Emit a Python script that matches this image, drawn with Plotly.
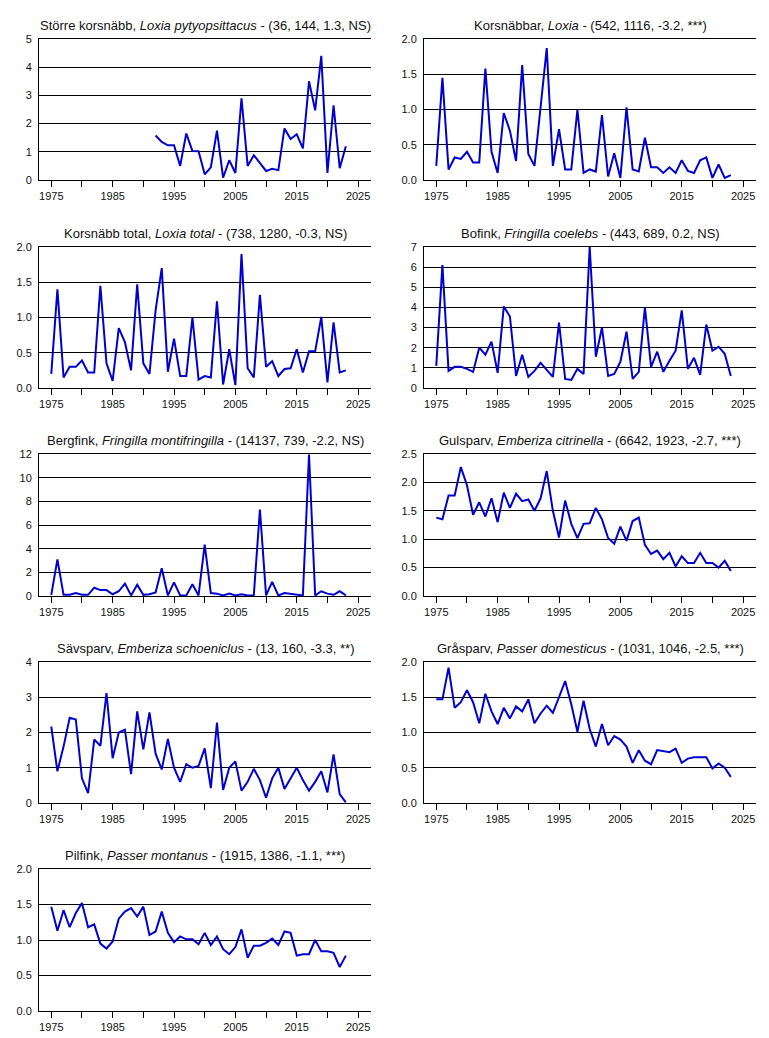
import plotly.graph_objects as go

years = list(range(1975, 2024))

titles = [
    "Större korsnäbb, <i>Loxia pytyopsittacus</i> - (36, 144, 1.3, NS)",
    "Korsnäbbar, <i>Loxia</i> - (542, 1116, -3.2, ***)",
    "Korsnäbb total, <i>Loxia total</i> - (738, 1280, -0.3, NS)",
    "Bofink, <i>Fringilla coelebs</i> - (443, 689, 0.2, NS)",
    "Bergfink, <i>Fringilla montifringilla</i> - (14137, 739, -2.2, NS)",
    "Gulsparv, <i>Emberiza citrinella</i> - (6642, 1923, -2.7, ***)",
    "Sävsparv, <i>Emberiza schoeniclus</i> - (13, 160, -3.3, **)",
    "Gråsparv, <i>Passer domesticus</i> - (1031, 1046, -2.5, ***)",
    "Pilfink, <i>Passer montanus</i> - (1915, 1386, -1.1, ***)",
]

storre_korsnabb = [None] * 17 + [
    1.58, 1.35, 1.23, 1.23, 0.50, 1.65, 1.03, 1.02, 0.20, 0.45,
    1.75, 0.08, 0.70, 0.25, 2.90, 0.50, 0.88, 0.60, 0.32, 0.40,
    0.35, 1.83, 1.45, 1.62, 1.12, 3.50, 2.47, 4.40, 0.25, 2.65,
    0.42, 1.20]

korsnabbar = [
    0.20, 1.45, 0.15, 0.32, 0.30, 0.40, 0.25, 0.25, 1.58, 0.40,
    0.10, 0.95, 0.70, 0.27, 1.63, 0.37, 0.20, 1.05, 1.87, 0.20,
    0.72, 0.15, 0.15, 1.00, 0.10, 0.15, 0.12, 0.92, 0.05, 0.38,
    0.03, 1.03, 0.15, 0.12, 0.60, 0.18, 0.18, 0.10, 0.18, 0.10,
    0.28, 0.13, 0.10, 0.28, 0.32, 0.03, 0.22, 0.03, 0.07]

korsnabb_total = [
    0.20, 1.40, 0.15, 0.30, 0.30, 0.39, 0.22, 0.22, 1.45, 0.35,
    0.10, 0.85, 0.65, 0.25, 1.47, 0.35, 0.20, 1.10, 1.70, 0.23,
    0.70, 0.17, 0.17, 1.00, 0.12, 0.17, 0.15, 1.23, 0.05, 0.55,
    0.04, 1.90, 0.28, 0.15, 1.32, 0.30, 0.38, 0.17, 0.27, 0.28,
    0.55, 0.22, 0.52, 0.52, 1.01, 0.08, 0.93, 0.22, 0.25]

bofink = [
    1.10, 6.10, 0.85, 1.05, 1.05, 0.95, 0.80, 2.00, 1.65, 2.30,
    0.75, 4.05, 3.55, 0.60, 1.65, 0.55, 0.85, 1.25, 0.90, 0.55,
    3.25, 0.45, 0.40, 0.95, 0.70, 7.00, 1.55, 3.00, 0.60, 0.70,
    1.30, 2.80, 0.45, 0.80, 4.00, 1.05, 1.80, 0.80, 1.35, 1.85,
    3.85, 0.95, 1.50, 0.65, 3.15, 1.85, 2.05, 1.70, 0.60]

bergfink = [
    0.10, 3.10, 0.10, 0.10, 0.25, 0.10, 0.10, 0.70, 0.50, 0.50,
    0.15, 0.40, 1.05, 0.05, 0.95, 0.10, 0.15, 0.30, 2.35, 0.05,
    1.15, 0.05, 0.05, 1.00, 0.05, 4.35, 0.25, 0.20, 0.05, 0.20,
    0.05, 0.15, 0.05, 0.05, 7.30, 0.05, 1.20, 0.05, 0.25, 0.20,
    0.10, 0.05, 11.95, 0.05, 0.40, 0.20, 0.10, 0.40, 0.05]

gulsparv = [
    1.38, 1.35, 1.77, 1.77, 2.27, 1.95, 1.43, 1.65, 1.40, 1.72,
    1.30, 1.82, 1.55, 1.80, 1.67, 1.70, 1.50, 1.72, 2.20, 1.50,
    1.03, 1.68, 1.27, 1.02, 1.27, 1.28, 1.55, 1.35, 1.02, 0.92,
    1.22, 0.97, 1.32, 1.38, 0.90, 0.74, 0.80, 0.65, 0.76, 0.52,
    0.70, 0.58, 0.58, 0.76, 0.58, 0.58, 0.50, 0.62, 0.44]

savsparv = [
    2.17, 0.90, 1.60, 2.42, 2.37, 0.70, 0.28, 1.80, 1.62, 3.12,
    1.27, 2.00, 2.08, 0.82, 2.60, 1.52, 2.57, 1.40, 0.95, 1.82,
    1.00, 0.60, 1.10, 1.00, 1.05, 1.55, 0.42, 2.28, 0.37, 1.00,
    1.18, 0.35, 0.60, 0.97, 0.65, 0.15, 0.70, 1.00, 0.40, 0.70,
    1.00, 0.65, 0.35, 0.60, 0.90, 0.30, 1.38, 0.25, 0.02]

grasparv = [
    1.47, 1.47, 1.92, 1.35, 1.43, 1.60, 1.43, 1.13, 1.55, 1.30,
    1.12, 1.35, 1.20, 1.37, 1.30, 1.47, 1.13, 1.27, 1.38, 1.28,
    1.50, 1.73, 1.40, 1.01, 1.45, 1.05, 0.80, 1.12, 0.82, 0.95,
    0.90, 0.80, 0.57, 0.75, 0.60, 0.55, 0.75, 0.73, 0.72, 0.77,
    0.57, 0.63, 0.65, 0.65, 0.65, 0.49, 0.56, 0.50, 0.37]

pilfink = [
    1.47, 1.13, 1.42, 1.18, 1.38, 1.52, 1.18, 1.22, 0.95, 0.88,
    0.98, 1.30, 1.40, 1.45, 1.33, 1.47, 1.07, 1.12, 1.40, 1.10,
    0.97, 1.05, 1.01, 1.01, 0.94, 1.10, 0.93, 1.05, 0.87, 0.80,
    0.90, 1.15, 0.75, 0.92, 0.92, 0.96, 1.02, 0.93, 1.12, 1.10,
    0.78, 0.80, 0.80, 1.00, 0.84, 0.84, 0.82, 0.62, 0.78]

series = [storre_korsnabb, korsnabbar, korsnabb_total, bofink, bergfink,
          gulsparv, savsparv, grasparv, pilfink]
y_max = [5, 2, 2, 7, 12, 2.5, 4, 2, 2]
y_dtick = [1, 0.5, 0.5, 1, 2, 0.5, 1, 0.5, 0.5]
y_fmt = ["d", ".1f", ".1f", "d", "d", ".1f", "d", ".1f", ".1f"]

x_tickvals = list(range(1975, 2030, 5))
x_ticktext = [str(v) if (v - 1975) % 10 == 0 else "" for v in x_tickvals]

W, H = 769, 1038
col_px = [(39, 371), (424, 756)]
row_px = [(39, 180), (247, 388), (454, 596), (662, 803), (869, 1011)]

FONT = "Arial, 'Liberation Sans', sans-serif"
fig = go.Figure()
annotations = []
for i, vals in enumerate(series):
    r, c = divmod(i, 2)
    n = i + 1
    xa = "x" if n == 1 else f"x{n}"
    ya = "y" if n == 1 else f"y{n}"
    fig.add_trace(go.Scatter(
        x=years, y=vals, mode="lines", xaxis=xa, yaxis=ya,
        line=dict(color="#0000D0", width=2), connectgaps=False,
        showlegend=False, hoverinfo="x+y"))
    x0, x1 = col_px[c]
    t, b = row_px[r]
    xd = [x0 / W, x1 / W]
    yd = [1 - b / H, 1 - t / H]
    fig.layout[f"xaxis{'' if n == 1 else n}"] = dict(
        domain=xd, range=[1973.0, 2027.1], anchor=ya,
        tickmode="array", tickvals=x_tickvals, ticktext=x_ticktext,
        ticks="outside", ticklen=6, tickwidth=1, tickcolor="black",
        showline=True, mirror=True, linecolor="black", linewidth=1,
        showgrid=False, zeroline=False, fixedrange=True, automargin=False,
        tickfont=dict(family=FONT, size=11, color="#111"))
    fig.layout[f"yaxis{'' if n == 1 else n}"] = dict(
        domain=yd, range=[0, y_max[i]], anchor=xa,
        tick0=0, dtick=y_dtick[i], tickformat=y_fmt[i],
        ticks="", showline=True, linecolor="black", linewidth=1,
        showgrid=True, gridcolor="black", gridwidth=1,
        zeroline=False, fixedrange=True, ticklabelstandoff=4, automargin=False,
        tickfont=dict(family=FONT, size=11, color="#111"))
    annotations.append(dict(
        text=titles[i], x=(xd[0] + xd[1]) / 2, y=yd[1],
        xref="paper", yref="paper", xanchor="center", yanchor="bottom",
        yshift=4, showarrow=False,
        font=dict(family=FONT, size=13, color="#111")))

fig.update_layout(
    template="none",
    width=W, height=H, autosize=False,
    margin=dict(l=0, r=0, t=0, b=0, pad=0),
    paper_bgcolor="white", plot_bgcolor="white",
    annotations=annotations,
    font=dict(family=FONT),
)

fig.write_html("out.html",
               config={"displayModeBar": False},
               post_script="document.body.style.margin='0';document.body.style.overflow='hidden';")
